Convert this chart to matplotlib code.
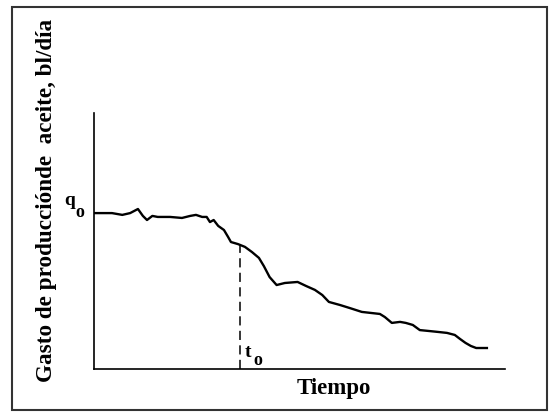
import matplotlib.pyplot as plt
from matplotlib.patches import Rectangle

# datos (tiempo y gasto en unidades arbitrarias 0-100)
tiempo = [0, 4.5, 7.0, 8.9, 10.8, 12.0, 13.0, 14.3, 15.6, 18.6, 21.5, 23.5,
          24.9, 26.4, 27.5, 28.3, 29.2, 30.3, 31.7, 32.7, 33.4, 35.1, 36.8,
          38.5, 40.2, 41.4, 42.8, 44.5, 46.5, 49.6, 51.7, 53.8, 55.6, 57.2,
          59.9, 62.3, 65.2, 67.4, 69.6, 70.8, 72.5, 74.5, 75.9, 77.6, 79.3,
          81.8, 83.6, 85.9, 87.8, 89.1, 90.4, 91.7, 93.0, 95.6]
gasto = [60.9, 60.9, 60.2, 60.9, 62.5, 59.8, 58.2, 59.8, 59.4, 59.4, 59.0,
         59.8, 60.2, 59.4, 59.4, 57.4, 58.2, 55.9, 54.3, 51.6, 49.6, 48.8,
         47.7, 45.7, 43.4, 40.2, 35.9, 32.8, 33.6, 34.0, 32.4, 30.9, 28.9,
         26.2, 25.0, 23.8, 22.3, 21.9, 21.5, 20.3, 18.0, 18.4, 18.0, 17.2,
         15.2, 14.8, 14.5, 14.1, 13.3, 11.7, 10.2, 9.0, 8.2, 8.2]
t0 = 35.6
q_t0 = 48.3

plt.rcParams['font.family'] = ['Liberation Serif', 'DejaVu Serif']

W, H = 549, 412
fig = plt.figure(figsize=(W / 100, H / 100), dpi=100)
ax = fig.add_axes([93.5 / W, 1 - 369 / H, (505 - 93.5) / W, (369 - 113) / H])


def px(x, y):
    # pixel (origen arriba-izquierda) -> fraccion de figura
    return x / W, 1 - y / H


ax.plot(tiempo, gasto, color='black', lw=1.7)
ax.plot([t0, t0], [0, q_t0], color='black', lw=1.1, ls=(0, (6, 3.5)))

ax.set_xlim(0, 100)
ax.set_ylim(0, 100)
ax.spines['top'].set_visible(False)
ax.spines['right'].set_visible(False)
ax.spines['left'].set_linewidth(1.2)
ax.spines['bottom'].set_linewidth(1.2)
ax.set_xticks([])
ax.set_yticks([])

fig.text(*px(334, 394), 'Tiempo', fontsize=16.5, fontweight='bold',
         ha='center', va='baseline')
fig.text(*px(47, 200), 'Gasto de producciónde  aceite, bl/día',
         rotation=90, fontsize=16.7, fontweight='bold', ha='center', va='center')

# etiquetas q_o y t_o
fig.text(*px(64, 205), 'q', fontsize=14, fontweight='bold', ha='left', va='baseline')
fig.text(*px(75, 217), 'o', fontsize=13, fontweight='bold', ha='left', va='baseline')
fig.text(*px(245, 357), 't', fontsize=14, fontweight='bold', ha='left', va='baseline')
fig.text(*px(253, 365), 'o', fontsize=13, fontweight='bold', ha='left', va='baseline')

# marco exterior
fig.patches.append(Rectangle(px(12, 410), (547 - 12) / W, (410 - 7) / H,
                             transform=fig.transFigure, fill=False, lw=1.5, ec='#333333'))

fig.savefig('out.png', dpi=100)
